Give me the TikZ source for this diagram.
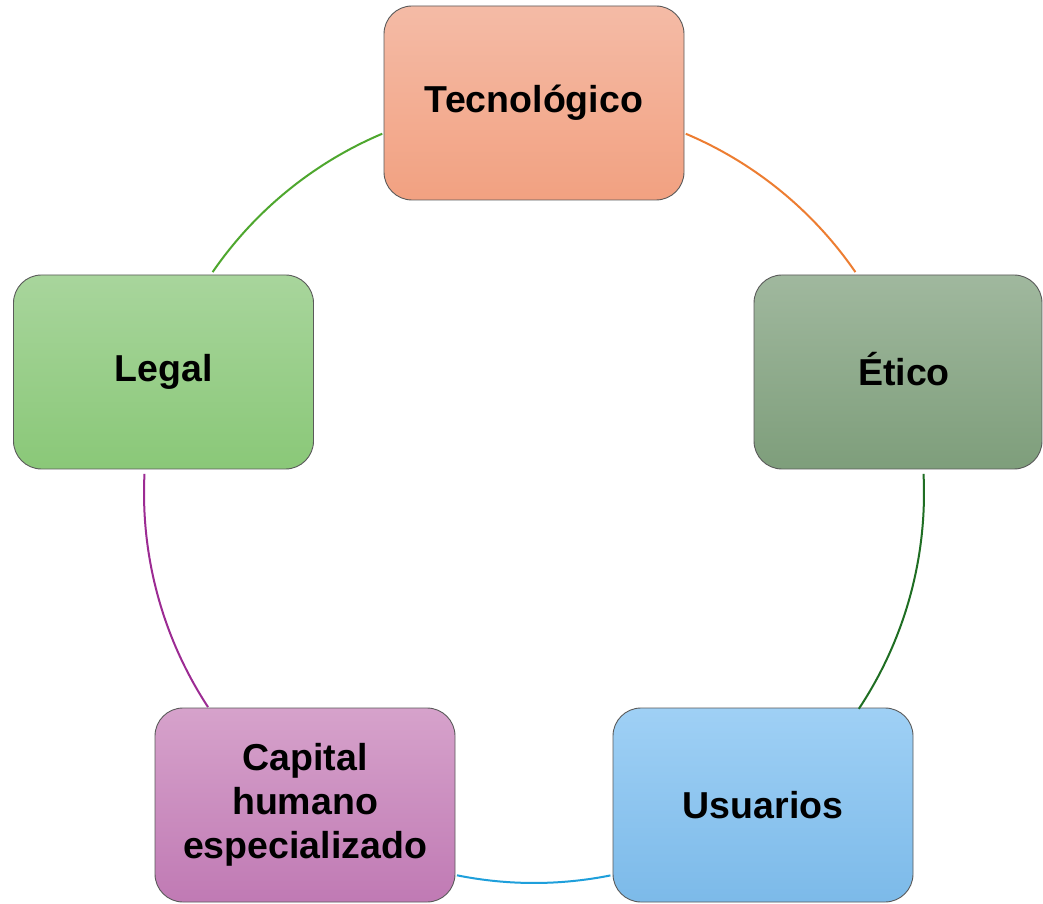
\documentclass[tikz,border=0pt]{standalone}
\usepackage{fontspec}
\setmainfont{Liberation Sans}
\definecolor{tecA}{HTML}{F4BBA6}
\definecolor{tecB}{HTML}{F2A181}
\definecolor{etiA}{HTML}{A0B89E}
\definecolor{etiB}{HTML}{7E9E7B}
\definecolor{legA}{HTML}{A8D59C}
\definecolor{legB}{HTML}{8AC878}
\definecolor{usuA}{HTML}{9FD0F5}
\definecolor{usuB}{HTML}{7CBAE9}
\definecolor{capA}{HTML}{D6A2CB}
\definecolor{capB}{HTML}{C07AB4}
\definecolor{lnOrange}{HTML}{ED7D31}
\definecolor{lnDkGreen}{HTML}{1F6E23}
\definecolor{lnBlue}{HTML}{1E9FDB}
\definecolor{lnPurple}{HTML}{9C2B93}
\definecolor{lnGreen}{HTML}{4EA72E}
\definecolor{boxBorder}{HTML}{5A5A5A}
\tikzset{
  x=1pt, y=1pt,
  card/.style={draw=boxBorder, line width=0.9pt, rounded corners=28pt,
    minimum width=300pt, minimum height=194pt, inner sep=0pt,
    align=center, font=\fontsize{37.5}{44}\selectfont\bfseries},
  arcline/.style={line width=2pt}
}
\begin{document}
\begin{tikzpicture}
\useasboundingbox (0,0) rectangle (1043,903);
\fill[white] (0,0) rectangle (1043,903);
\node[card, top color=tecA, bottom color=tecB] (tec) at (534,800) {Tecnológico};
\node[card, minimum width=288pt, top color=etiA, bottom color=etiB] (eti) at (898,531) {\hspace{12pt}\vphantom{T}\smash{É}tico};
\node[card, top color=legA, bottom color=legB] (leg) at (163.5,531) {Legal};
\node[card, top color=usuA, bottom color=usuB] (usu) at (763,98) {Usuarios};
\node[card, top color=capA, bottom color=capB] (cap) at (305,98) {Capital\\humano\\especializado};
\coordinate (o) at (534,410);
\draw[arcline, lnOrange] ([shift={(67.1:390)}]o) arc[start angle=67.1, end angle=34.5, radius=390];
\draw[arcline, lnDkGreen] ([shift={(2.8:390)}]o) arc[start angle=2.8, end angle=-33.6, radius=390];
\draw[arcline, lnBlue] ([shift={(-78.7:390)}]o) arc[start angle=-78.7, end angle=-101.4, radius=390];
\draw[arcline, lnPurple] ([shift={(-146.7:390)}]o) arc[start angle=-146.7, end angle=-182.8, radius=390];
\draw[arcline, lnGreen] ([shift={(145.5:390)}]o) arc[start angle=145.5, end angle=112.9, radius=390];
\end{tikzpicture}
\end{document}
